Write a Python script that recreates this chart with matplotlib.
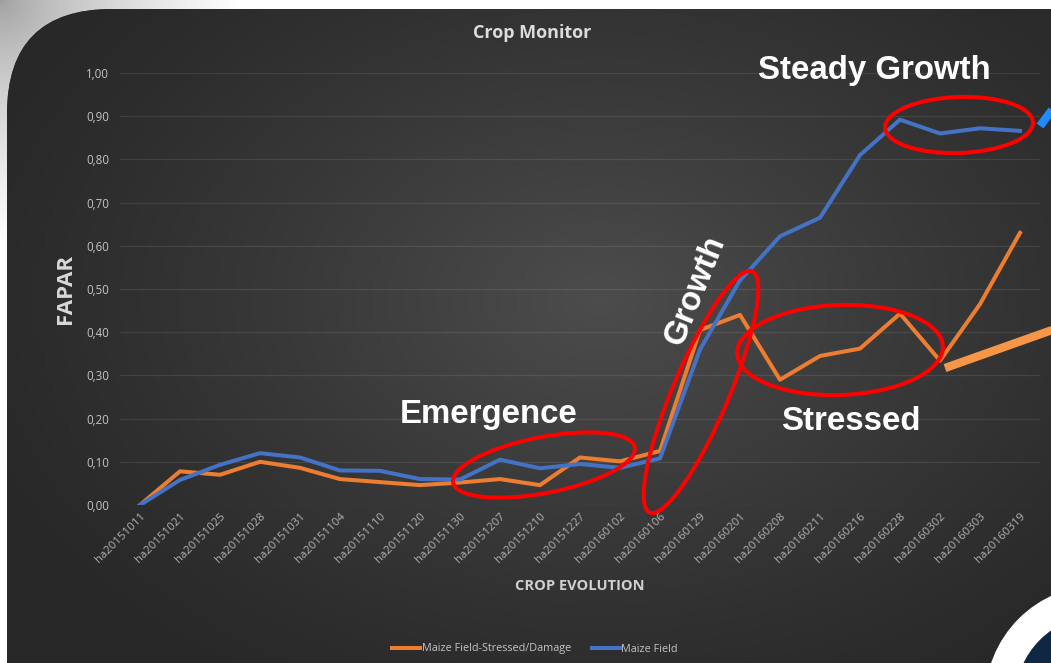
import matplotlib
matplotlib.use("Agg")
import matplotlib.pyplot as plt
import matplotlib.patches as mpatches
import numpy as np
from matplotlib.ticker import FuncFormatter, MultipleLocator

# data
dates = ["ha20151011", "ha20151021", "ha20151025", "ha20151028", "ha20151031",
         "ha20151104", "ha20151110", "ha20151120", "ha20151130", "ha20151207",
         "ha20151210", "ha20151227", "ha20160102", "ha20160106", "ha20160129",
         "ha20160201", "ha20160208", "ha20160211", "ha20160216", "ha20160228",
         "ha20160302", "ha20160303", "ha20160319"]
stressed = [0.00, 0.078, 0.070, 0.100, 0.086, 0.060, 0.053, 0.046, 0.052, 0.060,
            0.046, 0.110, 0.101, 0.125, 0.405, 0.440, 0.290, 0.345, 0.362, 0.443,
            0.334, 0.465, 0.630]
healthy = [0.00, 0.058, 0.093, 0.120, 0.110, 0.080, 0.079, 0.060, 0.059, 0.105,
           0.085, 0.095, 0.086, 0.108, 0.360, 0.520, 0.622, 0.665, 0.810, 0.892,
           0.860, 0.872, 0.866]

W, H = 1051, 663
fig = plt.figure(figsize=(W / 100, H / 100), dpi=100, facecolor="white")

# background: white frame, shadow in the corner, dark rounded panel with gradient
bg = fig.add_axes([0, 0, 1, 1], zorder=0)
bg.set_xlim(0, W)
bg.set_ylim(H, 0)
bg.axis("off")

yy, xx = np.mgrid[0:260, 0:260]
r = np.clip(np.hypot(xx, yy) / 240.0, 0, 1)
sh = 0.62 + 0.38 * r ** 0.7
bg.imshow(np.dstack([sh, sh, sh]), extent=(0, 260, 260, 0), zorder=0)

panel = mpatches.FancyBboxPatch((7, 9), W + 200, H + 200,
                                boxstyle="round,pad=0,rounding_size=105",
                                facecolor="#2c2c2c", edgecolor="none", zorder=1)
bg.add_patch(panel)
gy, gx = np.mgrid[0:H, 0:W]
dist = np.hypot((gx - 600) / 650.0, (gy - 300) / 450.0)
g = 0.16 + 0.14 * np.clip(1 - dist, 0, 1) ** 1.2
img = bg.imshow(np.dstack([g, g, g]), extent=(0, W, H, 0), zorder=1.5, aspect="auto")
img.set_clip_path(panel)
bg.add_patch(mpatches.Circle((1100, 700), 115, facecolor="white", edgecolor="none", zorder=2))
bg.add_patch(mpatches.Circle((1100, 700), 85, facecolor="#0f2742", edgecolor="none", zorder=3))

# main chart
ax = fig.add_axes([120 / W, (H - 505) / H, 920 / W, 432 / H], zorder=2)
ax.set_facecolor("none")
x = np.arange(len(dates))
ax.plot(x, stressed, color="#ed7d31", lw=2.9, solid_joinstyle="round",
        label="Maize Field-Stressed/Damage", zorder=3)
ax.plot(x, healthy, color="#4472c4", lw=2.9, solid_joinstyle="round",
        label="Maize Field", zorder=4)
ax.set_xlim(-0.5, len(dates) - 0.5)
ax.set_ylim(0, 1.0)
ax.yaxis.set_major_locator(MultipleLocator(0.1))
ax.yaxis.set_major_formatter(FuncFormatter(lambda v, p: f"{v:.2f}".replace(".", ",")))
ax.grid(axis="y", color="white", alpha=0.09, lw=0.9)
ax.set_axisbelow(True)
for s in ax.spines.values():
    s.set_visible(False)
ax.tick_params(length=0, colors="#c4c4c4", labelsize=8.3)
ax.tick_params(axis="y", pad=8)
ax.tick_params(axis="x", pad=4)
ax.set_xticks(x)
ax.set_xticklabels(dates, rotation=45, ha="right", rotation_mode="anchor",
                   fontsize=8.2, color="#b4b4b4", family="Open Sans")
for t in ax.get_yticklabels():
    t.set_family("Open Sans")
ax.set_ylabel("FAPAR", fontsize=16, fontweight="bold", color="#d9d9d9",
              family="Open Sans", labelpad=7)
ax.set_xlabel("CROP EVOLUTION", fontsize=10.5, fontweight="bold", color="#d0d0d0",
              family="Open Sans", labelpad=10)

fig.text(532 / W, 1 - 33 / H, "Crop Monitor", ha="center", va="center",
         fontsize=13, fontweight="bold", color="#dcdcdc", family="Open Sans")

leg = fig.legend(loc="center", bbox_to_anchor=(535 / W, 1 - 649 / H), ncol=2,
                 frameon=False, handlelength=2.6, handletextpad=0.15,
                 columnspacing=1.9, prop={"family": "Open Sans", "size": 7.8})
for t in leg.get_texts():
    t.set_color("#c4c4c4")

# annotations in pixel coordinates
ov = fig.add_axes([0, 0, 1, 1], zorder=5)
ov.set_xlim(0, W)
ov.set_ylim(H, 0)
ov.axis("off")
red = "#ff0000"
ov.add_patch(mpatches.Ellipse((544, 465), 185, 56, angle=-11, fill=False, ec=red, lw=2.9))
ov.add_patch(mpatches.Ellipse((701, 392), 262, 56, angle=-67, fill=False, ec=red, lw=2.9))
ov.add_patch(mpatches.Ellipse((840, 350), 206, 90, angle=-2, fill=False, ec=red, lw=2.9))
ov.add_patch(mpatches.Ellipse((959, 125), 148, 56, angle=-2, fill=False, ec=red, lw=2.9))

afont = dict(family="Liberation Sans", fontweight="bold", color="white", fontsize=23.8)
ov.text(874, 70, "Steady Growth", ha="center", va="center", **afont)
ov.text(489, 414, "Emergence", ha="center", va="center", **afont)
ov.text(851, 421, "Stressed", ha="center", va="center", **afont)
ov.text(695, 290, "Growth", ha="center", va="center", rotation=68, **afont)

ov.plot([945, 1055], [368, 329], color="#f79646", lw=6, solid_capstyle="butt")
ov.plot([1040, 1055], [126, 106], color="#1e8cff", lw=6, solid_capstyle="butt")

fig.savefig("out.png", dpi=100, facecolor="white")
